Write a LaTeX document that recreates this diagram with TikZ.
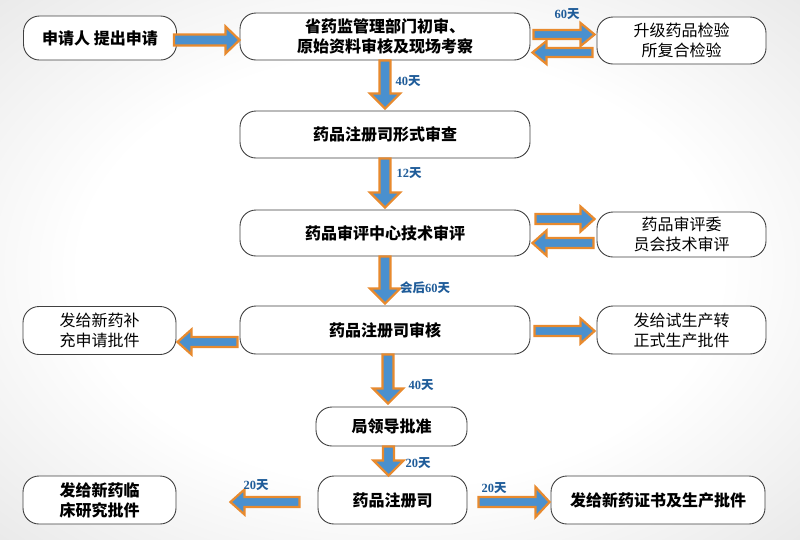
\documentclass[tikz,border=0pt]{standalone}
\usepackage{fontspec}
\setmainfont{Liberation Serif}
\newfontfamily\cjk{Noto Sans CJK SC}
\usetikzlibrary{calc}
\definecolor{arrblue}{HTML}{4A90CE}
\definecolor{arrorange}{HTML}{E88A2E}
\definecolor{lblblue}{HTML}{1F5C99}
\definecolor{boxline}{HTML}{404040}
\definecolor{bgedge}{HTML}{D6D6D6}
\definecolor{bgcorner}{HTML}{CACACA}
\pgfdeclareradialshading{bgshade}{\pgfpoint{0bp}{0bp}}{color(0bp)=(white); color(20bp)=(white); color(50bp)=(bgedge); color(72bp)=(bgcorner)}
\tikzset{
  box/.style={draw=boxline, line width=0.9pt, fill=white, rounded corners=16pt,
    align=center, inner sep=0pt, font=\cjk\bfseries\fontsize{16}{20}\selectfont},
  lightbox/.style={box, font=\cjk\fontsize{16}{20}\selectfont},
  barrow/.style={draw=arrorange, fill=arrblue, line width=2.2pt, line join=miter},
  lbl/.style={text=lblblue, inner sep=0pt, font=\bfseries\fontsize{12.5}{14}\selectfont},
}
% right-pointing block arrow: start, tip, half shaft, half head
\newcommand\rarrow[4]{\draw[barrow] let \p1=(#1), \p2=(#2) in
  (\x1,\y1+#3) -- (\x2-14,\y1+#3) -- (\x2-14,\y1+#4) -- (\x2,\y1) --
  (\x2-14,\y1-#4) -- (\x2-14,\y1-#3) -- (\x1,\y1-#3) -- cycle;}
\newcommand\larrow[4]{\draw[barrow] let \p1=(#1), \p2=(#2) in
  (\x1,\y1+#3) -- (\x2+14,\y1+#3) -- (\x2+14,\y1+#4) -- (\x2,\y1) --
  (\x2+14,\y1-#4) -- (\x2+14,\y1-#3) -- (\x1,\y1-#3) -- cycle;}
\newcommand\darrow[4]{\draw[barrow] let \p1=(#1), \p2=(#2) in
  (\x1-#3,\y1) -- (\x1-#3,\y2+15) -- (\x1-#4,\y2+15) -- (\x1,\y2) --
  (\x1+#4,\y2+15) -- (\x1+#3,\y2+15) -- (\x1+#3,\y1) -- cycle;}
\begin{document}
\begin{tikzpicture}[x=1pt,y=-1pt]
\useasboundingbox (0,0) rectangle (800,539);
\shade[shading=bgshade] (0,0) rectangle (800,539);

% boxes
\node[box, minimum width=153, minimum height=44] (apply) at (100,38) {申请人 提出申请};
\node[box, minimum width=290, minimum height=47] (prov) at (385,36.5) {省药监管理部门初审、\\原始资料审核及现场考察};
\node[lightbox, minimum width=169, minimum height=47] (lab) at (681.5,40.5) {升级药品检验\\所复合检验};
\node[box, minimum width=290, minimum height=47] (form) at (385,134.5) {药品注册司形式审查};
\node[box, minimum width=290, minimum height=46] (cde) at (385,233) {药品审评中心技术审评};
\node[lightbox, minimum width=169, minimum height=45] (comm) at (681.5,234.5) {药品审评委\\员会技术审评};
\node[box, minimum width=290, minimum height=48] (rev) at (385,330) {药品注册司审核};
\node[lightbox, minimum width=153, minimum height=48] (supp) at (99.5,330.5) {发给新药补\\充申请批件};
\node[lightbox, minimum width=169, minimum height=48] (trial) at (681.5,330) {发给试生产转\\正式生产批件};
\node[box, minimum width=151, minimum height=39] (lead) at (391.5,426.5) {局领导批准};
\node[box, minimum width=149, minimum height=48] (reg) at (392.5,500) {药品注册司};
\node[box, minimum width=153, minimum height=48] (clin) at (99.5,500) {发给新药临\\床研究批件};
\node[box, minimum width=214, minimum height=48] (cert) at (658,500) {发给新药证书及生产批件};

% horizontal arrows
\rarrow{$(apply.east)+(-3,2)$}{prov.west}{5.5}{13.5}
\rarrow{$(prov.east)+(3,-2)$}{$(lab.west)+(-2,0)$}{4.5}{11.5}
\larrow{$(lab.west)+(-4,12)$}{$(prov.east)+(2,0)$}{4.5}{11.5}
\rarrow{$(cde.east)+(5,-14)$}{$(comm.west)+(-2,0)$}{5}{12.5}
\larrow{$(comm.west)+(-3,8.5)$}{$(cde.east)+(2,0)$}{5}{12.5}
\larrow{$(rev.west)+(-2,12)$}{$(supp.east)+(1,0)$}{5}{12.5}
\rarrow{$(rev.east)+(4,1)$}{$(trial.west)+(-2,0)$}{5}{12.5}
\larrow{$(reg.west)+(-18,2)$}{$(clin.east)+(54,0)$}{5}{12.5}
\rarrow{$(reg.east)+(11,2)$}{$(cert.west)+(-1,0)$}{5}{15}

% vertical arrows
\darrow{prov.south}{$(form.north)+(0,-2)$}{5.5}{15}
\darrow{form.south}{$(cde.north)+(0,-2)$}{5.5}{15}
\darrow{cde.south}{$(rev.north)+(0,-2)$}{5.5}{15}
\darrow{$(rev.south)+(3,0)$}{$(lead.north)+(0,-3)$}{5.5}{15}
\darrow{$(lead.south)+(-3,0)$}{reg.north}{5.5}{15}

% labels
\node[lbl] (t1) at (567,14) {60{\cjk 天}};
\node[lbl] (t2) at (408,81) {40{\cjk 天}};
\node[lbl] (t3) at (409,173) {12{\cjk 天}};
\node[lbl] (t4) at (425,288) {{\cjk 会后}60{\cjk 天}};
\node[lbl] (t5) at (421,385) {40{\cjk 天}};
\node[lbl] (t6) at (418,463) {20{\cjk 天}};
\node[lbl] (t7) at (256,485) {20{\cjk 天}};
\node[lbl] (t8) at (494,488) {20{\cjk 天}};
\end{tikzpicture}
\end{document}
